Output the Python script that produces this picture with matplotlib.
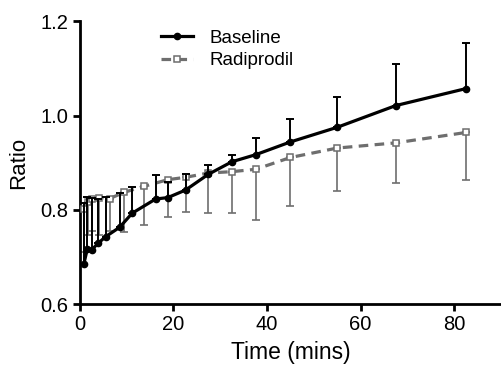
import matplotlib
matplotlib.use("Agg")
import matplotlib.pyplot as plt
import numpy as np

plt.rcParams['font.family'] = ['Liberation Sans', 'DejaVu Sans']

base_t = [0.85, 1.6, 2.5, 3.9, 5.5, 8.5, 11.2, 16.2, 18.8, 22.6, 27.4, 32.5, 37.6, 45.0, 55.0, 67.5, 82.5]
base_y = [0.685, 0.717, 0.715, 0.729, 0.743, 0.763, 0.793, 0.823, 0.826, 0.842, 0.875, 0.902, 0.917, 0.944, 0.975, 1.021, 1.057]
base_err = [0.13, 0.11, 0.11, 0.095, 0.085, 0.072, 0.055, 0.050, 0.033, 0.033, 0.020, 0.015, 0.036, 0.049, 0.065, 0.088, 0.096]

radi_t = [0.85, 1.7, 2.6, 4.1, 6.4, 9.4, 13.8, 18.8, 22.6, 27.4, 32.5, 37.6, 45.0, 55.0, 67.5, 82.5]
radi_y = [0.801, 0.817, 0.824, 0.826, 0.824, 0.837, 0.850, 0.864, 0.869, 0.878, 0.881, 0.886, 0.911, 0.931, 0.942, 0.964]
radi_err = [0.09, 0.07, 0.068, 0.079, 0.068, 0.084, 0.082, 0.079, 0.073, 0.084, 0.087, 0.107, 0.103, 0.091, 0.085, 0.100]

fig = plt.figure(figsize=(5.02, 3.71), dpi=100)
ax = fig.add_axes([0.159, 0.180, 0.839, 0.763])

gray = '#6e6e6e'
ax.errorbar(radi_t, radi_y, yerr=[radi_err, np.zeros(len(radi_err))], fmt='none',
            ecolor=gray, elinewidth=1.2, capsize=3, capthick=1.2, zorder=2)
ax.plot(radi_t, radi_y, color=gray, lw=2.3, ls=(0, (3, 2)), marker='s', ms=5,
        mfc='white', mec=gray, mew=1.1, label='Radiprodil', zorder=3)
ax.errorbar(base_t, base_y, yerr=[np.zeros(len(base_err)), base_err], fmt='none',
            ecolor='black', elinewidth=1.4, capsize=3, capthick=1.4, zorder=4)
ax.plot(base_t, base_y, color='black', lw=2.3, marker='o', ms=4.5, label='Baseline', zorder=5)

ax.set_xlim(0, 90)
ax.set_ylim(0.6, 1.2)
ax.set_xticks([0, 20, 40, 60, 80])
ax.set_yticks([0.6, 0.8, 1.0, 1.2])
ax.set_yticklabels(['0.6', '0.8', '1.0', '1.2'])
for s in ['top', 'right']:
    ax.spines[s].set_visible(False)
for s in ['left', 'bottom']:
    ax.spines[s].set_linewidth(2)
ax.tick_params(direction='out', length=5, width=2, labelsize=14.5, pad=3)
ax.set_xlabel('Time (mins)', fontsize=16.5, labelpad=5)
ax.set_ylabel('Ratio', fontsize=16, labelpad=8)

h, l = ax.get_legend_handles_labels()
ax.legend(h[::-1], l[::-1], loc='upper left', bbox_to_anchor=(0.152, 1.03), frameon=False,
          fontsize=13.5, handlelength=1.7, handletextpad=0.9, labelspacing=0.3)

fig.savefig('out.png', dpi=100)
